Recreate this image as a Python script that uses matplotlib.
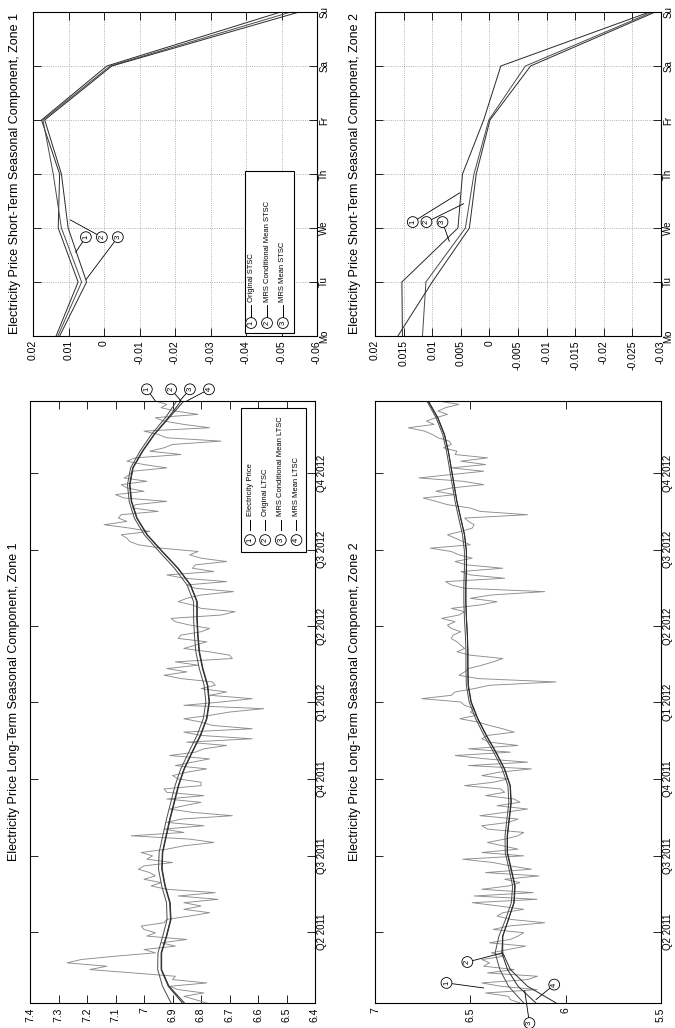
import numpy as np
import matplotlib
matplotlib.use('Agg')
import matplotlib.pyplot as plt
from matplotlib import font_manager
from matplotlib.patches import Rectangle
from matplotlib.lines import Line2D

# ---------------- data ----------------
quarter_days = [90, 181, 273, 365, 456, 547, 639]
quarter_labels = ['Q2 2011', 'Q3 2011', 'Q4 2011', 'Q1 2012', 'Q2 2012', 'Q3 2012', 'Q4 2012']
price_days = np.arange(5, 726, 4)
trend_days = np.arange(5, 726, 20)

z1_price = [
    6.78, 6.82, 6.86, 6.79, 6.88, 6.91, 6.78, 6.90, 6.89, 7.04,
    7.19, 7.13, 7.27, 7.22, 7.10, 6.96, 7.00, 6.89, 6.94, 6.85,
    6.99, 6.96, 7.00, 7.01, 6.93, 6.92, 6.84, 6.77, 6.86, 6.80,
    6.86, 6.74, 6.88, 6.75, 6.92, 6.975, 6.94, 7.00, 6.96, 6.98,
    7.02, 7.00, 6.90, 6.99, 6.97, 7.01, 6.92, 6.86, 6.755, 6.84,
    7.045, 6.86, 6.93, 6.79, 6.92, 6.87, 6.69, 6.83, 6.91, 6.86,
    6.80, 6.92, 6.79, 6.92, 6.93, 6.80, 6.80, 6.88, 6.90, 6.85,
    6.78, 6.89, 6.83, 6.77, 6.91, 6.82, 6.79, 6.71, 6.85, 6.62,
    6.80, 6.86, 6.62, 6.76, 6.80, 6.86, 6.77, 6.70, 6.58, 6.86,
    6.73, 6.62, 6.77, 6.71, 6.80, 6.75, 6.76, 6.87, 6.93, 6.85,
    6.92, 6.81, 6.89, 6.69, 6.70, 6.77, 6.86, 6.82, 6.78, 6.88,
    6.87, 6.80, 6.77, 6.84, 6.89, 6.905, 6.73, 6.68, 6.80, 6.83,
    6.88, 6.85, 6.80, 6.686, 6.82, 6.85, 6.71, 6.86, 6.92, 6.755,
    6.83, 6.82, 6.71, 6.80, 6.84, 6.81, 6.94, 7.02, 7.05, 7.06,
    7.08, 6.98, 7.05, 7.14, 7.06, 7.09, 7.08, 6.95, 7.04, 7.03,
    6.92, 7.07, 7.10, 7.00, 7.06, 7.08, 6.99, 7.07, 7.05, 7.04,
    6.92, 7.00, 7.06, 7.03, 6.87, 6.98, 6.93, 6.90, 6.73, 6.92,
    6.95, 7.00, 6.77, 6.86, 6.93, 6.96, 6.81, 6.89, 6.94, 6.92,
    6.96]
z1_ltsc = [6.865, 6.915, 6.94, 6.94, 6.922, 6.907, 6.91, 6.927, 6.938, 6.936,
           6.923, 6.91, 6.895, 6.88, 6.86, 6.832, 6.803, 6.781, 6.772, 6.778,
           6.795, 6.807, 6.812, 6.815, 6.815, 6.838, 6.882, 6.937, 6.99, 7.026,
           7.045, 7.051, 7.04, 7.006, 6.965, 6.915, 6.87]
z1_cond = [6.905, 6.935, 6.952, 6.951, 6.934, 6.919, 6.921, 6.938, 6.949, 6.947,
           6.934, 6.921, 6.906, 6.891, 6.871, 6.843, 6.814, 6.792, 6.783, 6.789,
           6.806, 6.818, 6.823, 6.826, 6.826, 6.849, 6.893, 6.947, 6.999, 7.034,
           7.052, 7.058, 7.047, 7.014, 6.974, 6.925, 6.885]
z1_mean = [6.858, 6.912, 6.938, 6.938, 6.92, 6.905, 6.908, 6.925, 6.936, 6.934,
           6.921, 6.908, 6.893, 6.878, 6.858, 6.83, 6.801, 6.779, 6.77, 6.776,
           6.793, 6.805, 6.81, 6.813, 6.813, 6.836, 6.88, 6.935, 6.988, 7.024,
           7.043, 7.049, 7.038, 7.004, 6.963, 6.912, 6.86]

z2_price = [
    6.24, 6.29, 6.30, 6.42, 6.15, 6.34, 6.44, 6.20, 6.148, 6.41,
    6.27, 6.43, 6.40, 6.44, 6.32, 6.39, 6.30, 6.21, 6.40, 6.29,
    6.25, 6.22, 6.38, 6.30, 6.11, 6.29, 6.36, 6.33, 6.22, 6.35,
    6.49, 6.15, 6.48, 6.17, 6.44, 6.30, 6.24, 6.32, 6.14, 6.42,
    6.18, 6.29, 6.38, 6.54, 6.22, 6.44, 6.25, 6.33, 6.41, 6.32,
    6.25, 6.22, 6.41, 6.44, 6.30, 6.25, 6.45, 6.32, 6.20, 6.36,
    6.24, 6.27, 6.42, 6.32, 6.34, 6.53, 6.38, 6.30, 6.44, 6.35,
    6.18, 6.51, 6.20, 6.42, 6.58, 6.29, 6.51, 6.25, 6.40, 6.44,
    6.41, 6.27, 6.33, 6.40, 6.46, 6.555, 6.47, 6.50, 6.48, 6.53,
    6.55, 6.755, 6.60, 6.58, 6.48, 6.40, 6.05, 6.46, 6.56, 6.53,
    6.51, 6.44, 6.38, 6.33, 6.50, 6.57, 6.53, 6.55, 6.57, 6.60,
    6.59, 6.55, 6.60, 6.62, 6.58, 6.65, 6.56, 6.53, 6.60, 6.45,
    6.36, 6.50, 6.39, 6.11, 6.53, 6.60, 6.63, 6.32, 6.50, 6.55,
    6.33, 6.52, 6.58, 6.49, 6.56, 6.60, 6.71, 6.50, 6.54, 6.58,
    6.62, 6.55, 6.49, 6.48, 6.51, 6.53, 6.20, 6.45, 6.50, 6.62,
    6.68, 6.747, 6.58, 6.68, 6.60, 6.43, 6.54, 6.77, 6.60, 6.43,
    6.60, 6.42, 6.55, 6.41, 6.58, 6.57, 6.64, 6.60, 6.61, 6.67,
    6.70, 6.74, 6.825, 6.69, 6.73, 6.68, 6.62, 6.67, 6.63, 6.56,
    6.67]
z2_ltsc = [6.05, 6.20, 6.29, 6.33, 6.33, 6.30, 6.27, 6.265, 6.285, 6.305,
           6.305, 6.295, 6.285, 6.29, 6.32, 6.365, 6.415, 6.46, 6.495, 6.51,
           6.512, 6.512, 6.515, 6.52, 6.523, 6.523, 6.52, 6.52, 6.53, 6.55,
           6.57, 6.585, 6.60, 6.615, 6.635, 6.67, 6.72]
z2_cond = [6.22, 6.30, 6.345, 6.37, 6.35, 6.315, 6.285, 6.278, 6.297, 6.317,
           6.318, 6.308, 6.298, 6.303, 6.333, 6.378, 6.428, 6.472, 6.506, 6.521,
           6.523, 6.523, 6.526, 6.531, 6.534, 6.534, 6.531, 6.531, 6.541, 6.561,
           6.58, 6.595, 6.61, 6.625, 6.645, 6.68, 6.728]
z2_mean = [6.156, 6.25, 6.305, 6.335, 6.33, 6.30, 6.272, 6.267, 6.287, 6.307,
           6.307, 6.297, 6.287, 6.292, 6.322, 6.367, 6.417, 6.462, 6.497, 6.512,
           6.514, 6.514, 6.516, 6.521, 6.524, 6.524, 6.521, 6.521, 6.531, 6.551,
           6.571, 6.586, 6.601, 6.616, 6.637, 6.672, 6.722]

weekdays = ['Mo', 'Tu', 'We', 'Th', 'Fr', 'Sa', 'Su']
s1_orig = [0.0135, 0.0073, 0.0129, 0.0125, 0.0176, -0.0008, -0.0498]
s1_cond = [0.0130, 0.0063, 0.0120, 0.0143, 0.0172, -0.0017, -0.0526]
s1_mean = [0.0125, 0.0049, 0.0101, 0.0120, 0.0167, -0.0022, -0.0550]
s2_orig = [0.0152, 0.0153, 0.0055, 0.0047, 0.0010, -0.0020, -0.0280]
s2_cond = [0.0117, 0.0111, 0.0042, 0.0027, 0.0001, -0.0063, -0.0285]
s2_mean = [0.0160, 0.0100, 0.0035, 0.0023, -0.0001, -0.0072, -0.0290]

ltsc_labels = ['Electricity Price', 'Original LTSC', 'MRS Conditional Mean LTSC', 'MRS Mean LTSC']
stsc_labels = ['Original STSC', 'MRS Conditional Mean STSC', 'MRS Mean STSC']

# ---------------- style ----------------
avail = {f.name for f in font_manager.fontManager.ttflist}
if 'Liberation Sans Narrow' in avail:
    plt.rcParams['font.family'] = ['Liberation Sans Narrow', 'DejaVu Sans']
    FS, FS_R, FS_LEG, FS_T = 9, 8.5, 6.5, 10.5
else:
    plt.rcParams['font.family'] = ['Liberation Sans', 'DejaVu Sans']
    FS, FS_R, FS_LEG, FS_T = 7.5, 7, 5.5, 9

GRAY = '#8c8c8c'
DARK = '#2a2a2a'
MID = '#4a4a4a'

fig = plt.figure(figsize=(6.75, 10.28), dpi=100)
W, H = 675.0, 1028.0


def px_axes(x0, y0, x1, y1):
    return fig.add_axes([x0 / W, 1 - y1 / H, (x1 - x0) / W, (y1 - y0) / H])


def circ(ax, x, y, s, transform=None, xy=None, fs=None):
    kw = dict(rotation=90, ha='center', va='center', fontsize=fs or FS_LEG,
              bbox=dict(boxstyle='circle,pad=0.25', fc='white', ec='black', lw=0.6),
              zorder=6)
    if xy is None:
        ax.text(x, y, s, transform=transform or ax.transAxes, **kw)
    else:
        ax.annotate(s, xy=xy, xytext=(x, y), textcoords='data', xycoords='data',
                    arrowprops=dict(arrowstyle='-', lw=0.6, color='black', shrinkA=0, shrinkB=0),
                    annotation_clip=False, **kw)


def legend_box(ax, x0, y0, x1, y1, cols, yc, yl0, yl1, yt, labels):
    ax.add_patch(Rectangle((x0, y0), x1 - x0, y1 - y0, transform=ax.transAxes,
                           fc='white', ec='black', lw=0.8, zorder=5))
    for i, (cx, lab) in enumerate(zip(cols, labels)):
        circ(ax, cx, yc, str(i + 1))
        ax.add_line(Line2D([cx, cx], [yl0, yl1], transform=ax.transAxes, color='black',
                           lw=0.7, zorder=6))
        ax.text(cx, yt, lab, rotation=90, rotation_mode='anchor', ha='left', va='center',
                fontsize=FS_LEG, transform=ax.transAxes, zorder=6)


def common(ax, title, tx):
    ax.tick_params(direction='in', length=6, width=0.6,
                   top=True, bottom=True, left=True, right=True,
                   labelleft=False, labelright=True, labelbottom=True)
    ax.tick_params(axis='x', labelsize=FS, pad=3)
    ax.tick_params(axis='y', labelsize=FS_R, pad=1.5)
    for sp in ax.spines.values():
        sp.set_linewidth(0.8)
    ax.text(tx, 0.5, title, rotation=90, ha='center', va='center', fontsize=FS_T,
            transform=ax.transAxes)


def ltsc_axes(ax, vlo, vhi, vticks, vlabels, title, tx):
    ax.set_xlim(vhi, vlo)
    ax.set_ylim(5, 725)
    ax.set_xticks(vticks)
    ax.set_xticklabels(vlabels, rotation=90)
    ax.yaxis.tick_right()
    ax.set_yticks(quarter_days)
    ax.set_yticklabels(quarter_labels, rotation=90, va='center')
    common(ax, title, tx)


def stsc_axes(ax, vlo, vhi, vticks, vlabels, title, tx):
    ax.set_xlim(vhi, vlo)
    ax.set_ylim(0, 6)
    ax.set_xticks(vticks)
    ax.set_xticklabels(vlabels, rotation=90)
    ax.yaxis.tick_right()
    ax.set_yticks(range(7))
    ax.set_yticklabels(weekdays, rotation=90, va='center')
    ax.grid(True, ls=':', lw=0.6, color='#999999')
    common(ax, title, tx)


# ---------- LTSC Zone 1 ----------
ax1 = px_axes(30, 401, 315, 1003)
ax1.plot(z1_price, price_days, color=GRAY, lw=0.65)
ax1.plot(z1_ltsc, trend_days, color=DARK, lw=0.7)
ax1.plot(z1_cond, trend_days, color=MID, lw=0.7)
ax1.plot(z1_mean, trend_days, color=DARK, lw=0.7)
v1 = [7.4, 7.3, 7.2, 7.1, 7.0, 6.9, 6.8, 6.7, 6.6, 6.5, 6.4]
ltsc_axes(ax1, 6.4, 7.4, v1, ['7.4', '7.3', '7.2', '7.1', '7', '6.9', '6.8', '6.7', '6.6', '6.5', '6.4'],
          'Electricity Price Long-Term Seasonal Component, Zone 1', -0.055)
legend_box(ax1, 0.740, 0.749, 0.968, 0.988, [0.772, 0.825, 0.880, 0.935],
           0.769, 0.785, 0.803, 0.809, ltsc_labels)
circ(ax1, 6.99, 739, '1', xy=(z1_price[-1], price_days[-1]))
circ(ax1, 6.905, 739, '2', xy=(z1_ltsc[-1], trend_days[-1]))
circ(ax1, 6.839, 739, '3', xy=(z1_cond[-1] - 0.01, trend_days[-1]))
circ(ax1, 6.772, 739, '4', xy=(z1_mean[-1] - 0.01, trend_days[-1]))

# ---------- LTSC Zone 2 ----------
ax2 = px_axes(375, 401, 661, 1003)
ax2.plot(z2_price, price_days, color=GRAY, lw=0.65)
ax2.plot(z2_ltsc, trend_days, color=DARK, lw=0.7)
ax2.plot(z2_cond, trend_days, color=MID, lw=0.7)
ax2.plot(z2_mean, trend_days, color=DARK, lw=0.7)
ltsc_axes(ax2, 5.5, 7.0, [7.0, 6.5, 6.0, 5.5], ['7', '6.5', '6', '5.5'],
          'Electricity Price Long-Term Seasonal Component, Zone 2', -0.069)
circ(ax2, 6.625, 29, '1', xy=(6.43, 23))
circ(ax2, 6.516, 54, '2', xy=(z2_ltsc[3], 65))
circ(ax2, 6.19, -19, '3', xy=(z2_cond[0] - 0.005, 20))
circ(ax2, 6.06, 27, '4', xy=(z2_mean[0], 9))

# ---------- STSC Zone 1 ----------
ax3 = px_axes(33, 12, 317, 336)
days = np.arange(7)
ax3.plot(s1_orig, days, color=DARK, lw=0.7)
ax3.plot(s1_cond, days, color=MID, lw=0.7)
ax3.plot(s1_mean, days, color=DARK, lw=0.7)
stsc_axes(ax3, -0.06, 0.02, [0.02, 0.01, 0, -0.01, -0.02, -0.03, -0.04, -0.05, -0.06],
          ['0.02', '0.01', '0', '-0.01', '-0.02', '-0.03', '-0.04', '-0.05', '-0.06'],
          'Electricity Price Short-Term Seasonal Component, Zone 1', -0.063)
legend_box(ax3, 0.746, 0.009, 0.919, 0.509, [0.768, 0.824, 0.880],
           0.040, 0.060, 0.096, 0.105, stsc_labels)
circ(ax3, 0.0051, 1.83, '1', xy=(0.0080, 1.55))
circ(ax3, 0.0006, 1.83, '2', xy=(0.0095, 2.15))
circ(ax3, -0.0039, 1.83, '3', xy=(0.0050, 1.05))

# ---------- STSC Zone 2 ----------
ax4 = px_axes(375, 12, 661, 336)
ax4.plot(s2_orig, days, color=DARK, lw=0.7)
ax4.plot(s2_cond, days, color=MID, lw=0.7)
ax4.plot(s2_mean, days, color=DARK, lw=0.7)
stsc_axes(ax4, -0.03, 0.02, [0.02, 0.015, 0.01, 0.005, 0, -0.005, -0.01, -0.015, -0.02, -0.025, -0.03],
          ['0.02', '0.015', '0.01', '0.005', '0', '-0.005', '-0.01', '-0.015', '-0.02', '-0.025', '-0.03'],
          'Electricity Price Short-Term Seasonal Component, Zone 2', -0.069)
circ(ax4, 0.0134, 2.11, '1', xy=(0.0052, 2.65))
circ(ax4, 0.0110, 2.11, '2', xy=(0.0045, 2.45))
circ(ax4, 0.0082, 2.11, '3', xy=(0.0070, 1.75))

fig.savefig('out.png', dpi=100, facecolor='white')
